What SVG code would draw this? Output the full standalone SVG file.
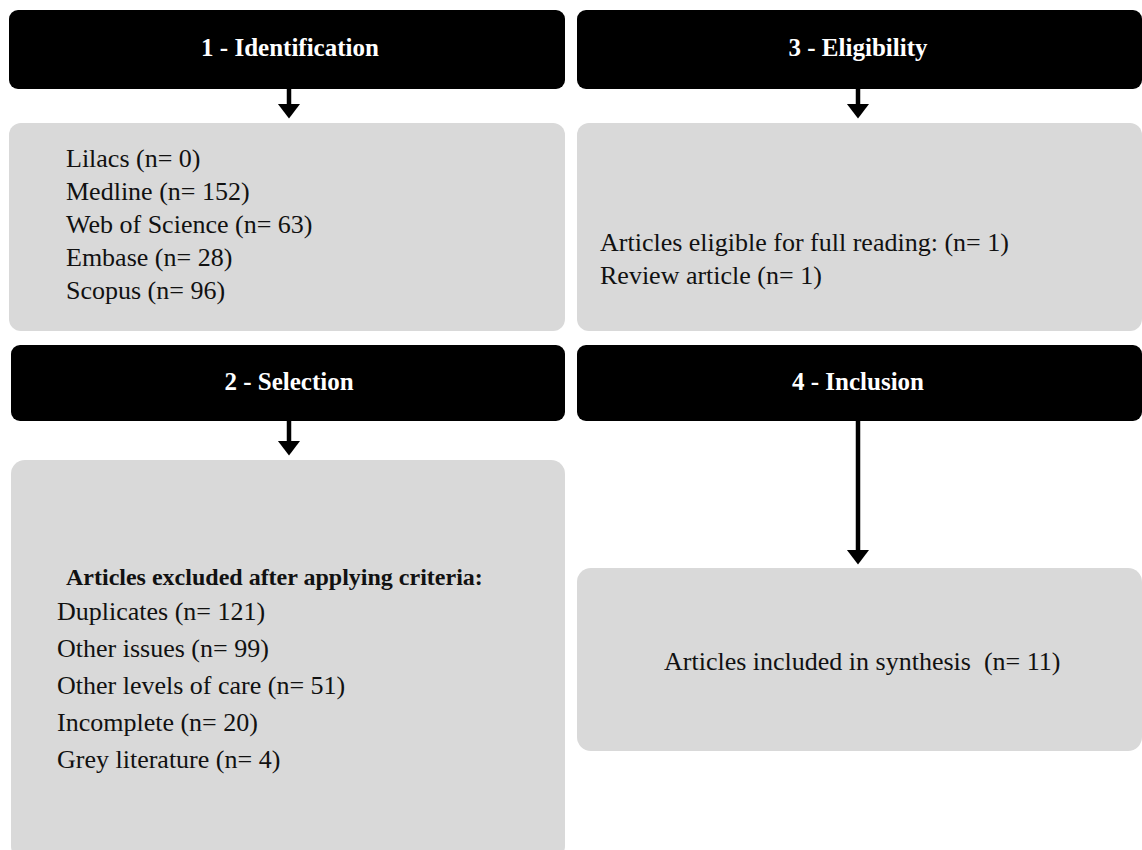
<svg xmlns="http://www.w3.org/2000/svg" width="1142" height="850" viewBox="0 0 1142 850">
<style>
.hdr{fill:#000;}
.box{fill:#d9d9d9;}
.ht{font-family:"Liberation Serif","Times New Roman",serif;font-weight:bold;font-size:25px;fill:#fff;text-anchor:middle;}
.bt{font-family:"Liberation Serif","Times New Roman",serif;font-size:26px;fill:#111;}
.bb{font-family:"Liberation Serif","Times New Roman",serif;font-size:24px;font-weight:bold;fill:#111;}
.conn{stroke:#000;stroke-width:4.5;fill:none;}
</style>
<defs>
<marker id="ah" markerWidth="6" markerHeight="6" refX="0.5" refY="2.5" orient="auto" markerUnits="strokeWidth"><path d="M0,0 L3.3,2.5 L0,5 Z" fill="#000"/></marker>
</defs>
<rect width="1142" height="850" fill="#fff"/>
<g id="h1"><rect class="hdr" x="9" y="10" width="556" height="79" rx="9"/><text class="ht" x="290" y="56">1 - Identification</text></g>
<g id="b1"><rect class="box" x="9" y="123" width="556" height="208" rx="12"/>
<text class="bt" x="66" y="167">Lilacs (n= 0)</text>
<text class="bt" x="66" y="200">Medline (n= 152)</text>
<text class="bt" x="66" y="233">Web of Science (n= 63)</text>
<text class="bt" x="66" y="266">Embase (n= 28)</text>
<text class="bt" x="66" y="299">Scopus (n= 96)</text></g>
<g id="h2"><rect class="hdr" x="11" y="345" width="554" height="76" rx="9"/><text class="ht" x="289" y="390">2 - Selection</text></g>
<g id="b2"><rect class="box" x="11" y="460" width="554" height="400" rx="14"/>
<text class="bb" x="66" y="585">Articles excluded after applying criteria:</text>
<text class="bt" x="57" y="620">Duplicates (n= 121)</text>
<text class="bt" x="57" y="657">Other issues (n= 99)</text>
<text class="bt" x="57" y="694">Other levels of care (n= 51)</text>
<text class="bt" x="57" y="731">Incomplete (n= 20)</text>
<text class="bt" x="57" y="768">Grey literature (n= 4)</text></g>
<g id="h3"><rect class="hdr" x="577" y="10" width="565" height="79" rx="9"/><text class="ht" x="858" y="56">3 - Eligibility</text></g>
<g id="b3"><rect class="box" x="577" y="123" width="565" height="208" rx="12"/>
<text class="bt" x="600" y="251">Articles eligible for full reading: (n= 1)</text>
<text class="bt" x="600" y="284">Review article (n= 1)</text></g>
<g id="h4"><rect class="hdr" x="577" y="345" width="565" height="76" rx="9"/><text class="ht" x="858" y="390">4 - Inclusion</text></g>
<g id="b4"><rect class="box" x="577" y="568" width="565" height="183" rx="14"/>
<text class="bt" x="664" y="670" xml:space="preserve">Articles included in synthesis  (n= 11)</text></g>
<g id="connectors">
<path class="conn" d="M289,89 V106" marker-end="url(#ah)"/>
<path class="conn" d="M858,89 V106" marker-end="url(#ah)"/>
<path class="conn" d="M289,421 V443" marker-end="url(#ah)"/>
<path class="conn" d="M858,421 V552" marker-end="url(#ah)"/>
</g>
</svg>
